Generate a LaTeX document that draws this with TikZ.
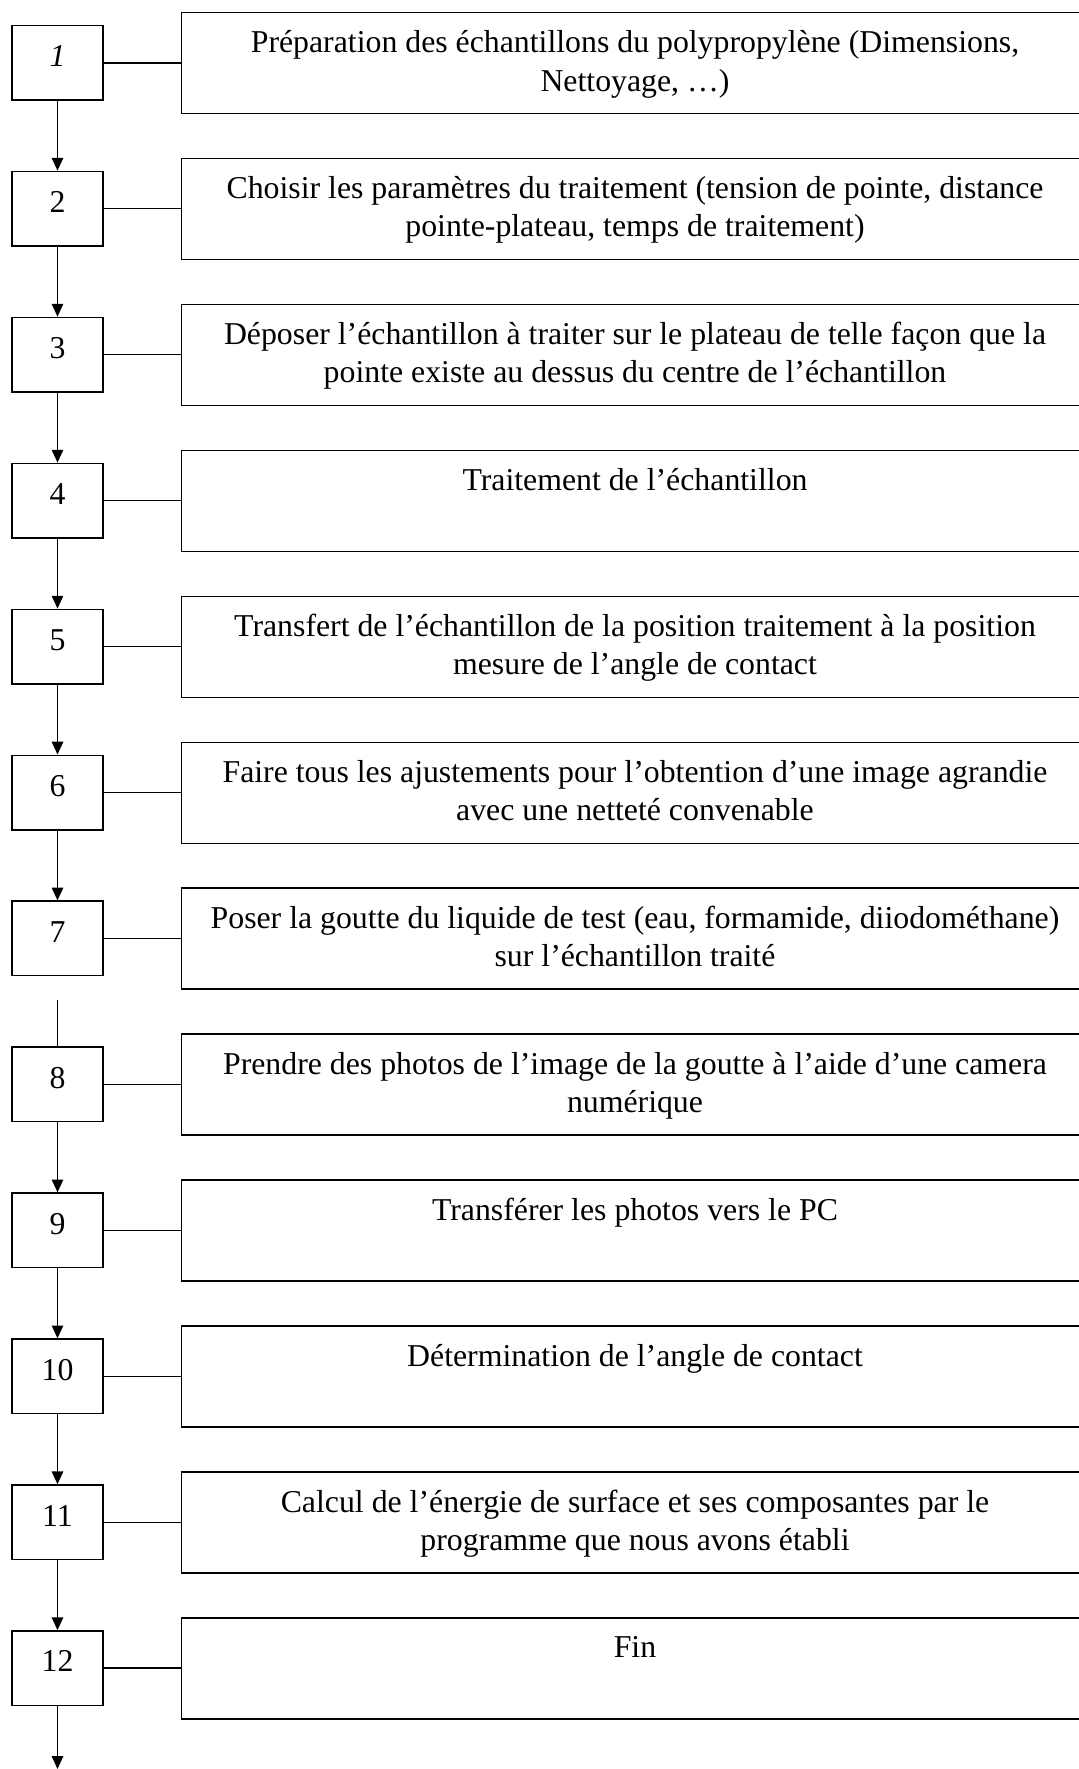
\documentclass[tikz,border=0pt]{standalone}
\usepackage{fontspec}
\setmainfont{Liberation Serif}
\usetikzlibrary{arrows.meta}
\newcommand\stepfont{\fontsize{15.9pt}{19.25pt}\selectfont}
\newcommand\twol[2]{\begin{tabular}[t]{@{}c@{}}#1\\#2\end{tabular}}
\newcommand\rowy[1]{25.5+145.95*(#1-1)}
\begin{document}
\begin{tikzpicture}[x=0.5pt,y=-0.5pt,
  numbox/.style={draw,line width=0.75pt,minimum width=45.5pt,inner sep=0pt,
    text height=20.5pt,text depth=16.75pt,anchor=base,font=\stepfont},
  txtbox/.style={draw,line width=0.75pt,minimum width=453.5pt,inner sep=0pt,
    text height=20pt,text depth=30.5pt,anchor=base,font=\stepfont},
  flow/.style={line width=0.75pt,-{Triangle[length=6.4pt,width=5.7pt]}},
  link/.style={line width=0.75pt}]
\useasboundingbox (0,0) rectangle (1078,1769);
\fill[white] (0,0) rectangle (1078,1769);

\foreach \i/\lab in {1/\textit{1},2/2,3/3,4/4,5/5,6/6,7/7,8/8,9/9,10/10,11/11,12/12}
  \node[numbox] (n\i) at (57.5,{\rowy{\i}+41}) {\lab};

\node[txtbox] (t1) at (635,{\rowy{1}+27}) {\twol{Préparation des échantillons du polypropylène (Dimensions,}{Nettoyage, …)}};
\node[txtbox] (t2) at (635,{\rowy{2}+27}) {\twol{Choisir les paramètres du traitement (tension de pointe, distance}{pointe-plateau, temps de traitement)}};
\node[txtbox] (t3) at (635,{\rowy{3}+27}) {\twol{Déposer l’échantillon à traiter sur le plateau de telle façon que la}{pointe existe au dessus du centre de l’échantillon}};
\node[txtbox] (t4) at (635,{\rowy{4}+27}) {Traitement de l’échantillon};
\node[txtbox] (t5) at (635,{\rowy{5}+27}) {\twol{Transfert de l’échantillon de la position traitement à la position}{mesure de l’angle de contact}};
\node[txtbox] (t6) at (635,{\rowy{6}+27}) {\twol{Faire tous les ajustements pour l’obtention d’une image agrandie}{avec une netteté convenable}};
\node[txtbox] (t7) at (635,{\rowy{7}+27}) {\twol{Poser la goutte du liquide de test (eau, formamide, diiodométhane)}{sur l’échantillon traité}};
\node[txtbox] (t8) at (635,{\rowy{8}+27}) {\twol{Prendre des photos de l’image de la goutte à l’aide d’une camera}{numérique}};
\node[txtbox] (t9) at (635,{\rowy{9}+27}) {Transférer les photos vers le PC};
\node[txtbox] (t10) at (635,{\rowy{10}+27}) {Détermination de l’angle de contact};
\node[txtbox] (t11) at (635,{\rowy{11}+27}) {\twol{Calcul de l’énergie de surface et ses composantes par le}{programme que nous avons établi}};
\node[txtbox] (t12) at (635,{\rowy{12}+27}) {Fin};

\foreach \i in {1,...,12}
  \draw[link] (n\i.east) -- (n\i.east -| t\i.west);

\foreach \i/\j in {1/2,2/3,3/4,4/5,5/6,6/7,8/9,9/10,10/11,11/12}
  \draw[flow] (n\i.south) -- (n\j.north);

\coordinate (g78) at (57.5,1000);
\draw[link] (g78) -- (n8.north);
\coordinate (fin) at (57.5,1769);
\draw[flow] (n12.south) -- (fin);
\end{tikzpicture}
\end{document}
